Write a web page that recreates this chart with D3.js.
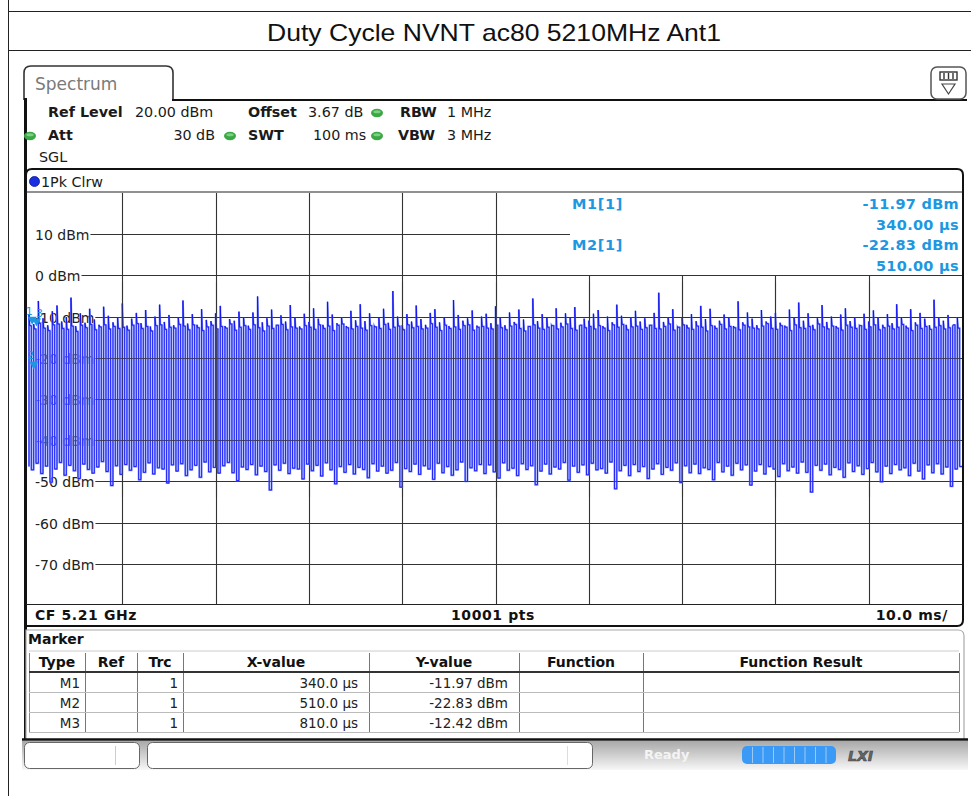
<!DOCTYPE html>
<html><head><meta charset="utf-8">
<script src="https://cdn.jsdelivr.net/npm/d3@7"></script>
<style>
html,body{margin:0;padding:0;background:#fff;}
svg{display:block;}
</style></head>
<body>
<svg id="c" width="971" height="796"></svg>
<script>
// ---------- data ----------
const chartTitle = "Duty Cycle NVNT ac80 5210MHz Ant1";
const yTicks = [10, 0, -10, -20, -30, -40, -50, -60, -70];
const yTickLabels = ["10 dBm", "0 dBm", "-10 dBm", "-20 dBm", "-30 dBm", "-40 dBm", "-50 dBm", "-60 dBm", "-70 dBm"];
const xDivisions = [0, 10, 20, 30, 40, 50, 60, 70, 80, 90, 100]; // ms
const yDomain = [-80, 20];
const sweepMs = 100;
// per-burst peak (on) levels, dBm
const pulseTop = [
 -9.5,-11.8,-6.2,-10.4,-12.1,-8.7,-7.3,-11.2,-10.1,-5.4,-12.3,-9.2,-11.5,-8.1,-10.7,-12.0,-7.6,-9.8,-11.4,-10.2,
 -6.8,-12.2,-10.5,-9.1,-11.6,-8.4,-12.4,-10.0,-7.1,-11.3,-9.6,-12.1,-10.3,-6.1,-11.7,-9.4,-12.0,-8.2,-10.8,-11.1,
 -9.2,-7.4,-12.3,-10.6,-11.0,-8.8,-10.2,-12.2,-9.0,-5.1,-11.4,-10.4,-8.3,-12.1,-9.7,-11.2,-7.2,-10.1,-12.4,-9.3,
 -11.3,-8.0,-10.5,-12.0,-6.4,-9.5,-11.6,-10.2,-12.3,-8.6,-10.9,-7.0,-11.1,-9.2,-12.2,-10.3,-8.1,-11.5,-3.8,-10.0,
 -12.1,-9.4,-11.2,-7.3,-10.6,-12.0,-9.1,-8.2,-11.4,-10.1,-12.3,-6.0,-9.6,-11.0,-10.4,-8.5,-12.2,-10.0,-9.3,-11.6,
 -7.5,-10.2,-12.1,-9.0,-11.3,-8.3,-10.7,-12.4,-5.6,-11.1,-9.4,-10.3,-12.0,-8.0,-11.5,-9.2,-10.1,-7.7,-12.2,-10.5,
 -11.0,-9.3,-8.4,-12.3,-10.0,-11.4,-7.1,-9.8,-12.0,-10.2,-8.6,-11.2,-10.4,-12.1,-9.1,-4.2,-11.3,-10.1,-8.2,-12.4,
 -10.3,-12.0,-9.4,-11.1,-7.4,-10.6,-8.1,-12.2,-11.0,-9.5,-10.2,-12.3,-6.3,-11.4,-9.0,-10.5,-12.1,-8.4,-11.2,-10.0,
 -9.1,-11.5,-12.2,-8.3,-10.1,-6.6,-11.0,-9.2,-12.0,-10.4,-7.2,-11.3,-10.0,-12.3,-9.5,-8.0,-11.1,-10.2,-12.1,-9.3,
 -11.2,-8.5,-10.3,-12.0,-9.4,-11.6,-7.0,-10.1,-12.2,-8.2,-11.4,-9.1,-10.5,-12.1,-5.9,-10.2,-11.0,-9.6,-12.3,-10.1
];
// per-burst plateau (on) levels, dBm
const pulsePlateau = [
 -12.2,-13.0,-11.6,-12.8,-13.4,-12.0,-11.8,-12.9,-13.1,-12.3,-13.6,-12.1,-12.7,-11.9,-13.2,-12.5,-12.0,-13.0,-12.4,-12.9,
 -12.6,-13.3,-12.1,-11.7,-12.9,-12.4,-13.5,-12.2,-12.0,-13.1,-12.6,-12.8,-11.9,-12.3,-13.2,-12.0,-12.7,-13.4,-12.5,-12.1,
 -13.0,-12.4,-12.8,-11.8,-13.3,-12.6,-12.2,-13.1,-12.0,-12.7,-13.5,-12.3,-12.9,-12.1,-11.9,-13.2,-12.5,-12.8,-13.0,-12.2,
 -12.6,-13.1,-12.0,-12.9,-12.3,-13.4,-12.1,-11.8,-12.7,-13.0,-12.4,-12.8,-13.3,-12.2,-12.5,-12.9,-11.9,-13.1,-12.6,-12.3,
 -13.2,-12.0,-12.7,-12.4,-13.0,-12.8,-11.7,-12.6,-13.4,-12.1,-12.9,-12.5,-13.1,-12.2,-12.0,-13.3,-12.6,-12.4,-12.8,-13.0,
 -12.1,-12.7,-13.2,-12.3,-11.9,-12.9,-13.5,-12.4,-12.0,-12.8,-13.1,-12.6,-12.2,-13.0,-12.5,-11.8,-12.9,-13.3,-12.1,-12.7,
 -12.4,-13.0,-12.2,-12.8,-13.4,-12.0,-12.6,-11.9,-13.2,-12.5,-12.3,-13.1,-12.7,-12.1,-12.9,-13.0,-12.4,-11.8,-13.3,-12.6,
 -12.0,-12.8,-13.1,-12.3,-12.6,-13.5,-12.2,-12.9,-11.9,-13.0,-12.4,-12.7,-13.2,-12.1,-12.5,-12.8,-13.0,-12.3,-11.7,-12.9,
 -13.1,-12.2,-12.6,-13.4,-12.0,-12.7,-12.9,-12.4,-13.2,-11.8,-12.5,-13.0,-12.3,-12.8,-13.3,-12.1,-12.6,-12.9,-12.2,-13.1,
 -12.5,-12.0,-13.2,-12.7,-12.3,-13.0,-12.6,-11.9,-12.8,-13.4,-12.1,-12.9,-12.4,-13.1,-12.6,-12.2,-13.0,-12.7,-12.0,-12.8
];
// per-burst floor (off) levels, dBm
const pulseBottom = [
 -47.2,-45.6,-48.1,-46.3,-50.2,-47.0,-45.4,-48.5,-46.1,-47.4,-49.3,-45.8,-47.1,-48.0,-46.5,-45.2,-47.6,-51.0,-46.2,-48.3,
 -45.9,-47.3,-46.4,-49.6,-47.8,-45.5,-48.2,-46.7,-47.0,-50.4,-46.0,-47.5,-45.7,-48.6,-47.2,-46.1,-49.0,-45.3,-47.7,-46.6,
 -48.0,-46.2,-45.4,-47.9,-49.8,-46.5,-47.1,-45.9,-48.4,-46.3,-47.6,-52.1,-46.0,-47.3,-45.6,-48.1,-46.8,-47.0,-49.4,-45.8,
 -47.4,-46.1,-48.7,-45.5,-47.2,-50.6,-46.4,-47.8,-45.9,-48.2,-46.6,-47.1,-49.1,-45.7,-47.5,-46.3,-48.0,-47.3,-45.4,-51.4,
 -46.9,-47.6,-45.8,-48.3,-46.2,-47.0,-49.5,-45.6,-47.9,-46.4,-48.5,-47.2,-45.3,-50.0,-46.7,-47.4,-45.9,-48.1,-46.0,-47.7,
 -49.2,-45.5,-47.3,-46.8,-48.6,-45.7,-47.1,-46.2,-50.8,-47.5,-45.8,-48.2,-46.5,-47.0,-45.4,-49.7,-46.3,-47.8,-46.0,-48.4,
 -45.6,-47.2,-46.9,-48.0,-45.3,-51.8,-47.4,-46.1,-48.6,-45.9,-47.6,-46.4,-49.3,-47.0,-45.7,-48.3,-46.6,-47.3,-45.5,-50.3,
 -46.2,-47.9,-45.8,-48.1,-46.7,-47.1,-49.6,-45.4,-47.7,-46.3,-48.5,-45.6,-47.2,-46.0,-50.9,-47.5,-45.9,-48.2,-46.4,-47.0,
 -48.8,-45.7,-47.4,-46.5,-48.0,-45.3,-47.8,-52.6,-46.1,-47.3,-45.8,-48.4,-46.6,-47.1,-49.0,-45.5,-47.6,-46.2,-48.3,-46.9,
 -45.4,-47.7,-50.1,-46.3,-48.1,-45.9,-47.2,-46.7,-48.6,-45.6,-47.5,-49.4,-46.0,-47.9,-45.7,-48.2,-46.5,-51.2,-47.0,-46.4
];
// markers
const markerNames = ["M1", "M2", "M3"];
const markerTimesUs = [340, 510, 810];
const markerLevels = [-11.97, -22.83, -12.42];
const markerXText = ["340.0 µs", "510.0 µs", "810.0 µs"];
const markerYText = ["-11.97 dBm", "-22.83 dBm", "-12.42 dBm"];
const markerInfo = [["M1[1]", "-11.97 dBm", "340.00 µs"], ["M2[1]", "-22.83 dBm", "510.00 µs"]];
const tableHeaders = ["Type", "Ref", "Trc", "X-value", "Y-value", "Function", "Function Result"];

// ---------- drawing ----------
const svg = d3.select("#c");
const F = "'DejaVu Sans', Verdana, sans-serif";
const blue = "#0808ee";
const cyan = "#1c98e2";
const defs = svg.append("defs");

// page table lines
svg.append("line").attr("x1", 8.5).attr("x2", 8.5).attr("y1", 0).attr("y2", 796).attr("stroke", "#222").attr("stroke-width", 1);
svg.append("line").attr("x1", 8).attr("x2", 971).attr("y1", 11.5).attr("y2", 11.5).attr("stroke", "#222");
svg.append("line").attr("x1", 8).attr("x2", 971).attr("y1", 50.5).attr("y2", 50.5).attr("stroke", "#222");
svg.append("text").attr("x", 494).attr("y", 41).attr("text-anchor", "middle")
  .attr("font-family", "'Liberation Sans', Arial, sans-serif").attr("font-size", 24).attr("fill", "#111")
  .attr("textLength", 454).attr("lengthAdjust", "spacingAndGlyphs")
  .text(chartTitle);

// tab
svg.append("path").attr("d", "M24,100 V73 Q24,66 31,66 H166 Q173,66 173,73 V100")
  .attr("fill", "#fff").attr("stroke", "#333").attr("stroke-width", 1.6);
svg.append("line").attr("x1", 172).attr("x2", 967).attr("y1", 100).attr("y2", 100).attr("stroke", "#111").attr("stroke-width", 2.2);
svg.append("text").attr("x", 35).attr("y", 90).attr("font-family", F).attr("font-size", 17).attr("fill", "#7a7a7a").text("Spectrum");
// top-right icon
svg.append("rect").attr("x", 931).attr("y", 67).attr("width", 35).attr("height", 32).attr("rx", 6)
  .attr("fill", "#fff").attr("stroke", "#555").attr("stroke-width", 1.5);
svg.append("rect").attr("x", 940).attr("y", 72).attr("width", 17).attr("height", 8).attr("fill", "#fff").attr("stroke", "#333").attr("stroke-width", 1.4);
[944, 948.5, 953].forEach(x => svg.append("line").attr("x1", x).attr("x2", x).attr("y1", 73).attr("y2", 79).attr("stroke", "#333").attr("stroke-width", 1.4));
svg.append("path").attr("d", "M942,84 H955 L948.5,94 Z").attr("fill", "none").attr("stroke", "#444").attr("stroke-width", 1.2);

// left thick frame line of instrument screen
svg.append("line").attr("x1", 25.5).attr("x2", 25.5).attr("y1", 98).attr("y2", 740).attr("stroke", "#111").attr("stroke-width", 3);

// settings
function txt(x, y, s, bold, opt) {
  const t = svg.append("text").attr("x", x).attr("y", y).attr("font-family", F).attr("font-size", 14.3)
    .attr("fill", "#1a1a1a").attr("font-weight", bold ? "bold" : "normal").text(s);
  if (opt && opt.anchor) t.attr("text-anchor", opt.anchor);
  return t;
}
function dot(cx, cy) {
  svg.append("ellipse").attr("cx", cx).attr("cy", cy).attr("rx", 6).attr("ry", 4.2).attr("fill", "#3aa845");
  svg.append("ellipse").attr("cx", cx).attr("cy", cy - 1.3).attr("rx", 3.6).attr("ry", 1.5).attr("fill", "#7fcf82");
}
txt(48, 117, "Ref Level", true); txt(135, 117, "20.00 dBm", false);
txt(248, 117, "Offset", true); txt(308, 117, "3.67 dB", false); dot(377, 113);
txt(400, 117, "RBW", true); txt(447, 117, "1 MHz", false);
dot(30, 136); txt(48, 140, "Att", true); txt(215, 140, "30 dB", false, {anchor: "end"});
dot(230, 136); txt(248, 140, "SWT", true); txt(313, 140, "100 ms", false); dot(377, 136);
txt(398, 140, "VBW", true); txt(447, 140, "3 MHz", false);
txt(39, 162, "SGL", false);

// plot frame
svg.append("path").attr("d", "M26,626 V175 Q26,169 32,169 H957 Q963,169 963,175 V620 Q963,626 957,626 Z")
  .attr("fill", "#fff").attr("stroke", "#111").attr("stroke-width", 2);
svg.append("line").attr("x1", 26).attr("x2", 963).attr("y1", 192).attr("y2", 192).attr("stroke", "#222").attr("stroke-width", 1.2);
svg.append("circle").attr("cx", 34.5).attr("cy", 181.5).attr("r", 5).attr("fill", "#1a2fe0").attr("stroke", "#0a1390").attr("stroke-width", 0.8);
txt(41, 187, "1Pk Clrw", false);

const x = d3.scaleLinear().domain([0, sweepMs]).range([29, 962]);
const y = d3.scaleLinear().domain(yDomain).range([605, 193]);

function drawGrid(g, opacity, withLabels) {
  g.selectAll("line.v").data(xDivisions.slice(1, -1)).join("line").attr("class", "v")
    .attr("x1", d => Math.round(x(d)) + 0.5).attr("x2", d => Math.round(x(d)) + 0.5)
    .attr("y1", 193).attr("y2", 604).attr("stroke", "#333").attr("stroke-width", 1.1).attr("opacity", opacity);
  yTicks.forEach((v, i) => {
    const yy = Math.round(y(v)) + 0.5;
    const t = g.append("text").attr("x", 35).attr("y", yy + 5).attr("font-family", F).attr("font-size", 14)
      .attr("fill", "#222").attr("opacity", opacity).text(yTickLabels[i]);
    const w = t.node().getComputedTextLength();
    if (!withLabels) t.remove();
    g.append("line").attr("x1", 35 + w + 1).attr("x2", 962).attr("y1", yy).attr("y2", yy)
      .attr("stroke", "#333").attr("stroke-width", 1.1).attr("opacity", opacity);
  });
}
drawGrid(svg.append("g"), 1, true);

// marker info box (covers grid)
svg.append("rect").attr("x", 570).attr("y", 193).attr("width", 392).attr("height", 82).attr("fill", "#fff");
markerInfo.forEach((m, i) => {
  const by = 209 + i * 41;
  svg.append("text").attr("x", 572).attr("y", by).attr("font-family", F).attr("font-size", 14.5).attr("font-weight", "bold")
    .attr("fill", cyan).attr("letter-spacing", 0.6).text(m[0]);
  svg.append("text").attr("x", 959).attr("y", by).attr("text-anchor", "end").attr("font-family", F).attr("font-size", 14.5)
    .attr("font-weight", "bold").attr("fill", cyan).attr("letter-spacing", 0.3).text(m[1]);
  svg.append("text").attr("x", 959).attr("y", by + 20.5).attr("text-anchor", "end").attr("font-family", F).attr("font-size", 14.5)
    .attr("font-weight", "bold").attr("fill", cyan).attr("letter-spacing", 0.3).text(m[2]);
});

// trace
const P = sweepMs / pulseTop.length;
const pts = [];
pulseTop.forEach((top, k) => {
  const t0 = k * P;
  const prevB = k === 0 ? pulseBottom[pulseBottom.length - 1] : pulseBottom[k - 1];
  pts.push([t0, prevB]);
  pts.push([t0, top]);
  pts.push([t0 + P * 0.15, pulsePlateau[k]]);
  pts.push([t0 + P * 0.5, pulsePlateau[k]]);
  pts.push([t0 + P * 0.5, pulseBottom[k]]);
});
pts.push([sweepMs, pulseBottom[pulseBottom.length - 1]]);
const line = d3.line().x(d => x(d[0])).y(d => y(d[1]));
svg.append("path").attr("d", line(pts)).attr("fill", "none").attr("stroke", "#8595ff").attr("stroke-width", 1.9);
svg.append("path").attr("d", line(pts)).attr("fill", "none").attr("stroke", blue).attr("stroke-width", 0.8);

// grid shows through the sampled trace (only in the trace band)
defs.append("clipPath").attr("id", "band").append("rect").attr("x", 29).attr("y", 282).attr("width", 933).attr("height", 215);
const over = svg.append("g").attr("clip-path", "url(#band)");
drawGrid(over, 0.6, false);

// markers on trace
markerTimesUs.forEach((t, i) => {
  const mx = x(t / 1000), my = y(markerLevels[i]);
  svg.append("path").attr("d", `M${mx - 4.5},${my - 8} H${mx + 4.5} L${mx},${my} Z`).attr("fill", cyan);
  svg.append("text").attr("x", mx + (i === 2 ? 3 : -3)).attr("y", my - 10).attr("text-anchor", "middle")
    .attr("font-family", F).attr("font-size", 11).attr("fill", cyan).text(String(i + 1));
});

// bottom bar of plot
svg.append("line").attr("x1", 26).attr("x2", 963).attr("y1", 604.5).attr("y2", 604.5).attr("stroke", "#222").attr("stroke-width", 1.2);
svg.append("text").attr("x", 35).attr("y", 620).attr("font-family", F).attr("font-size", 14).attr("font-weight", "bold")
  .attr("letter-spacing", 0.6).attr("fill", "#111").text("CF 5.21 GHz");
svg.append("text").attr("x", 493).attr("y", 620).attr("text-anchor", "middle").attr("font-family", F).attr("font-size", 14)
  .attr("font-weight", "bold").attr("letter-spacing", 0.6).attr("fill", "#111").text("10001 pts");
svg.append("text").attr("x", 948).attr("y", 620).attr("text-anchor", "end").attr("font-family", F).attr("font-size", 14)
  .attr("font-weight", "bold").attr("letter-spacing", 0.6).attr("fill", "#111").text("10.0 ms/");

// marker panel
svg.append("path").attr("d", "M26,739 V630 H958 Q964,630 964,636 V739").attr("fill", "#fff").attr("stroke", "#aaa").attr("stroke-width", 1.2);
svg.append("text").attr("x", 28).attr("y", 644).attr("font-family", F).attr("font-size", 14).attr("font-weight", "bold")
  .attr("fill", "#111").text("Marker");
const colEdges = [29, 85, 137, 183, 369, 519, 643, 959];
const tableTop = 651, headBottom = 672, rowH = 20;
svg.append("line").attr("x1", 29).attr("x2", 959).attr("y1", tableTop).attr("y2", tableTop).attr("stroke", "#ccc");
colEdges.forEach((cx, i) => {
  svg.append("line").attr("x1", cx + 0.5).attr("x2", cx + 0.5).attr("y1", tableTop + 2).attr("y2", headBottom + 3 * rowH)
    .attr("stroke", (i === 0 || i === colEdges.length - 1) ? "#888" : "#777").attr("stroke-width", 1);
});
svg.append("line").attr("x1", 29).attr("x2", 959).attr("y1", headBottom).attr("y2", headBottom).attr("stroke", "#333").attr("stroke-width", 2);
tableHeaders.forEach((h, i) => {
  svg.append("text").attr("x", (colEdges[i] + colEdges[i + 1]) / 2).attr("y", 667).attr("text-anchor", "middle")
    .attr("font-family", F).attr("font-size", 14).attr("font-weight", "bold").attr("fill", "#111").text(h);
});
markerNames.forEach((m, r) => {
  const by = headBottom + (r + 1) * rowH;
  svg.append("line").attr("x1", 29).attr("x2", 959).attr("y1", by + 0.5).attr("y2", by + 0.5).attr("stroke", "#bbb");
  const ty = by - 4.5;
  txt(80, ty, m, false, {anchor: "end"}).attr("font-size", 13.5).attr("fill", "#222");
  txt(178, ty, "1", false, {anchor: "end"}).attr("font-size", 13.5).attr("fill", "#222");
  txt(358, ty, markerXText[r], false, {anchor: "end"}).attr("font-size", 13.5).attr("fill", "#222");
  txt(508, ty, markerYText[r], false, {anchor: "end"}).attr("font-size", 13.5).attr("fill", "#222");
});
svg.append("line").attr("x1", 22).attr("x2", 968).attr("y1", 739.5).attr("y2", 739.5).attr("stroke", "#111").attr("stroke-width", 2.5);

// status bar
const g1 = defs.append("linearGradient").attr("id", "sb").attr("x1", 0).attr("x2", 0).attr("y1", 0).attr("y2", 1);
g1.append("stop").attr("offset", "0%").attr("stop-color", "#a9a9a9");
g1.append("stop").attr("offset", "100%").attr("stop-color", "#f7f7f7");
svg.append("rect").attr("x", 22).attr("y", 741).attr("width", 946).attr("height", 29).attr("fill", "url(#sb)");
svg.append("rect").attr("x", 24.5).attr("y", 742.5).attr("width", 115).attr("height", 26).attr("rx", 5).attr("fill", "#fff").attr("stroke", "#666");
svg.append("line").attr("x1", 115.5).attr("x2", 115.5).attr("y1", 746).attr("y2", 765).attr("stroke", "#ccc");
svg.append("rect").attr("x", 147.5).attr("y", 742.5).attr("width", 445).attr("height", 26).attr("rx", 5).attr("fill", "#fff").attr("stroke", "#666");
svg.append("line").attr("x1", 567.5).attr("x2", 567.5).attr("y1", 746).attr("y2", 765).attr("stroke", "#ddd");
svg.append("text").attr("x", 644).attr("y", 759).attr("font-family", F).attr("font-size", 13).attr("font-weight", "bold")
  .attr("fill", "#f4f4f4").text("Ready");
svg.append("rect").attr("x", 742).attr("y", 746).attr("width", 94).attr("height", 18).attr("rx", 5).attr("fill", "#3a9af5");
d3.range(1, 9).forEach(i => svg.append("line").attr("x1", 742 + i * 10.5).attr("x2", 742 + i * 10.5).attr("y1", 747).attr("y2", 763)
  .attr("stroke", "#9ccaf8").attr("stroke-width", 1));
svg.append("text").attr("x", 848).attr("y", 761).attr("font-family", F).attr("font-size", 14).attr("font-weight", "bold")
  .attr("font-style", "italic").attr("fill", "#666").attr("stroke", "#444").attr("stroke-width", 0.6).text("LXI");
</script>
</body></html>
